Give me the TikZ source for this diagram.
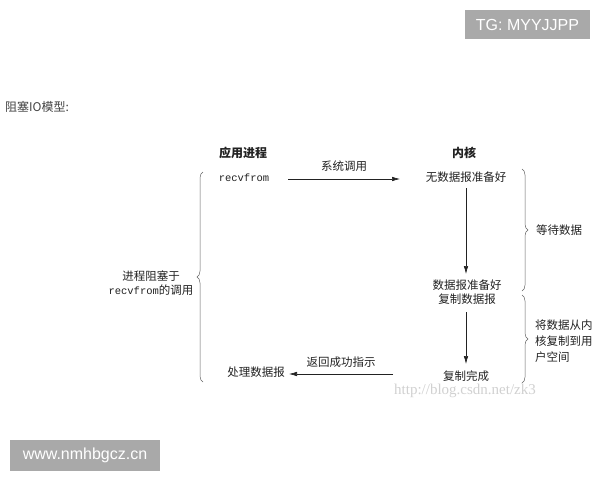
\documentclass[tikz,border=0pt]{standalone}
\usepackage{fontspec}
\setmainfont{Liberation Sans}
\newfontfamily\cjk{Noto Sans CJK SC}
\newfontfamily\mono{Liberation Mono}
\newfontfamily\wmfont{Liberation Serif}
\usetikzlibrary{arrows.meta,decorations.pathreplacing}
\definecolor{ink}{HTML}{222222}
\definecolor{boxgray}{HTML}{A9A9A9}
\tikzset{
  txt/.style={font=\cjk\fontsize{11.5}{14}\selectfont, text=ink, inner sep=1pt},
  hdr/.style={font=\cjk\bfseries\fontsize{12}{14}\selectfont, text=ink, inner sep=1pt},
  code/.style={font=\mono\fontsize{10.5}{13}\selectfont, text=ink, inner sep=1pt},
  arr/.style={draw=ink, line width=0.6pt, -{Latex[length=8pt,width=4.5pt]}},
  brc/.style={draw=ink!70, line width=0.5pt, decorate, decoration={brace, amplitude=6pt}},
  tag/.style={fill=boxgray, text=white, font=\fontsize{16}{18}\selectfont, inner sep=0pt},
}
\begin{document}
\begin{tikzpicture}[x=1pt,y=-1pt]
\useasboundingbox (0,0) rectangle (600,480);
\fill[white] (0,0) rectangle (600,480);
% watermark boxes
\node[tag, minimum width=125pt, minimum height=29pt] (tg) at (527.5,24.5) {TG: MYYJJPP};
\node[tag, minimum width=150pt, minimum height=31pt] (www) at (85,455.5) {www.nmhbgcz.cn};
% title
\node[font=\cjk\fontsize{12}{14}\selectfont, text=ink!85, anchor=west, inner sep=0pt] (title) at (5,107) {阻塞IO模型:};
% headers
\node[hdr] (app) at (243,153) {应用进程};
\node[hdr] (kern) at (464,153) {内核};
% left column
\node[code] (recv) at (244,178) {recvfrom};
\node[txt] (proc) at (256,372) {处理数据报};
% kernel column
\node[txt] (nodata) at (466,177) {无数据报准备好};
\node[txt, align=center] (ready) at (467,292.5) {数据报准备好\\复制数据报};
\node[txt] (done) at (466,376) {复制完成};
% arrows
\coordinate (sysL) at (288,179);
\coordinate (sysR) at (400,179);
\draw[arr] (sysL) -- node[txt, above=6pt] (syscall) {系统调用} (sysR);
\coordinate (v1a) at (466,188);
\coordinate (v1b) at (466,274);
\draw[arr] (v1a) -- (v1b);
\coordinate (v2a) at (466,312);
\coordinate (v2b) at (466,364);
\draw[arr] (v2a) -- (v2b);
\coordinate (retR) at (393,374);
\coordinate (retL) at (289,374);
\draw[arr] (retR) -- node[txt, above=5pt] (retlbl) {返回成功指示} (retL);
% braces
\coordinate (lbB) at (203,382);
\coordinate (lbT) at (203,172);
\draw[brc] (lbB) -- (lbT);
\node[txt, align=center] (blk) at (151,283.5) {进程阻塞于\\{\mono\fontsize{10.5}{13}\selectfont recvfrom}的调用};
\coordinate (rb1T) at (522,169);
\coordinate (rb1B) at (522,291);
\draw[brc] (rb1T) -- (rb1B);
\node[txt, anchor=west] (wait) at (535,230) {等待数据};
\coordinate (rb2T) at (522,295);
\coordinate (rb2B) at (522,383);
\draw[brc] (rb2T) -- (rb2B);
\node[txt, anchor=west, align=left, font=\cjk\fontsize{11.5}{16}\selectfont] (copy) at (534,341) {将数据从内\\核复制到用\\户空间};
% faint watermark
\node[font=\wmfont\fontsize{15}{17}\selectfont, text=black!18, anchor=west, inner sep=0pt] (wm) at (394,391) {http://blog.csdn.net/zk3};
\end{tikzpicture}
\end{document}
